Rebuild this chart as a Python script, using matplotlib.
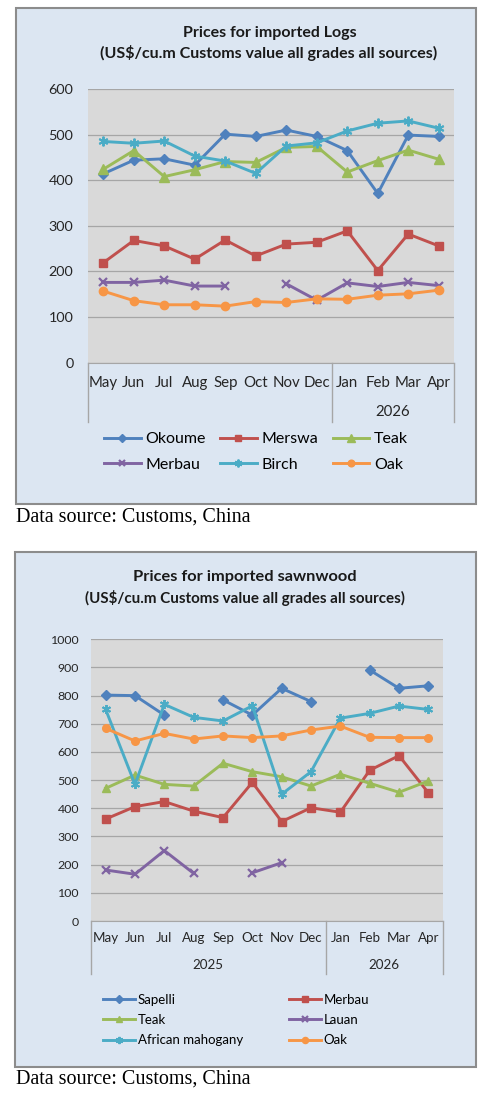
import numpy as np
import matplotlib
matplotlib.use("Agg")
from matplotlib import pyplot as plt
from matplotlib.patches import Rectangle

nan = np.nan

months = ['May', 'Jun', 'Jul', 'Aug', 'Sep', 'Oct', 'Nov', 'Dec', 'Jan', 'Feb', 'Mar', 'Apr']

# Logs (US$/cu.m)
log_okoume = [414, 444, 447, 433, 501, 496, 510, 496, 465, 371, 499, 496]
log_merswa = [219, 268, 256, 227, 269, 234, 260, 264, 289, 202, 282, 256]
log_teak = [424, 465, 408, 423, 441, 439, 472, 474, 418, 443, 466, 446]
log_merbau = [176, 176, 181, 168, 168, nan, 173, 137, 175, 167, 176, 169]
log_birch = [485, 481, 486, 453, 442, 415, 475, 482, 508, 525, 530, 514]
log_oak = [157, 136, 127, 127, 124, 134, 132, 140, 139, 148, 151, 159]

# Sawnwood (US$/cu.m)
saw_sapelli = [802, 800, 731, nan, 785, 731, 826, 779, nan, 891, 826, 835]
saw_merbau = [362, 406, 424, 390, 367, 492, 353, 402, 386, 535, 587, 455]
saw_teak = [471, 518, 485, 479, 560, 530, 512, 479, 521, 489, 457, 497]
saw_lauan = [181, 166, 250, 169, nan, 171, 207, nan, nan, nan, nan, nan]
saw_mahogany = [751, 485, 769, 723, 710, 764, 450, 530, 720, 737, 763, 751]
saw_oak = [684, 639, 666, 646, 657, 651, 657, 678, 692, 652, 651, 651]

BLUE = '#4F81BD'
RED = '#C0504D'
GREEN = '#9BBB59'
PURPLE = '#8064A2'
AQUA = '#4BACC6'
ORANGE = '#F79646'

W, H = 490, 1098
fig = plt.figure(figsize=(W / 100, H / 100), dpi=100)
fig.patch.set_facecolor('white')
FONT = 'Lato'


def box(x0, y0, x1, y1):
    return [x0 / W, 1 - y1 / H, (x1 - x0) / W, (y1 - y0) / H]


def frame(x0, y0, x1, y1):
    r = Rectangle((x0 / W, 1 - y1 / H), (x1 - x0) / W, (y1 - y0) / H,
                  transform=fig.transFigure, facecolor='#DCE6F2',
                  edgecolor='#8C8C8C', lw=1.5, zorder=0)
    fig.add_artist(r)


def ftext(x, y, s, family=FONT, **kw):
    fig.text(x / W, 1 - y / H, s, family=family, **kw)


def setup_axes(ax, ymax, tick_fs, pad, month_fs, month_off, years, line_drop, ax_h):
    ax.set_facecolor('#D9D9D9')
    ax.set_xlim(-0.5, 11.5)
    ax.set_ylim(0, ymax)
    ax.set_yticks(np.arange(0, ymax + 1, 100))
    ax.yaxis.grid(True, color='#A6A6A6', lw=0.9)
    ax.set_axisbelow(True)
    for s in ['left', 'right', 'top']:
        ax.spines[s].set_visible(False)
    ax.spines['bottom'].set_color('#A6A6A6')
    ax.set_xticks([])
    ax.tick_params(axis='y', length=0, pad=pad, labelsize=tick_fs, labelcolor='#262626')
    for lab in ax.get_yticklabels():
        lab.set_family(FONT)
    tr = ax.get_xaxis_transform()
    for i, m in enumerate(months):
        ax.text(i, -month_off / ax_h, m, transform=tr, ha='center', va='center',
                fontsize=month_fs, family=FONT, color='#262626')
    for xc, label, yoff in years:
        ax.text(xc, -yoff / ax_h, label, transform=tr, ha='center', va='center',
                fontsize=month_fs, family=FONT, color='#262626')
    for xv in [-0.5, 7.5, 11.5]:
        ax.axvline(xv, ymin=-line_drop / ax_h, ymax=0, color='#A6A6A6', lw=1.0, clip_on=False)


def draw(ax, y, color, marker, label, ms):
    mk = marker
    kw = dict(markerfacecolor=color, markeredgecolor=color)
    if marker == 'star':
        mk = (6, 2, 0)
        kw['markeredgewidth'] = 1.4
    elif marker == 'x':
        kw['markeredgewidth'] = 1.6
    return ax.plot(range(len(months)), y, color=color, lw=2.1, marker=mk,
                   markersize=ms, label=label, clip_on=False, **kw)[0]


# ---- chart 1: logs ----
frame(16, 8, 476, 504)
ftext(270, 33, 'Prices for imported Logs', ha='center', va='center', fontsize=11.5,
      weight='bold', color='#1a1a1a')
ftext(269, 53, '(US$/cu.m Customs value all grades all sources)', ha='center', va='center',
      fontsize=11.5, weight='bold', color='#1a1a1a')

ax1 = fig.add_axes(box(88, 89, 454, 362.7))
ah1 = 273.7
setup_axes(ax1, 600, 10.4, 10.5, 10.8, 20, [(9.5, '2026', 49)], 59, ah1)
h_ok = draw(ax1, log_okoume, BLUE, 'D', 'Okoume', 5.5)
h_me = draw(ax1, log_merswa, RED, 's', 'Merswa', 6)
h_te = draw(ax1, log_teak, GREEN, '^', 'Teak', 6.5)
h_mb = draw(ax1, log_merbau, PURPLE, 'x', 'Merbau', 6)
h_bi = draw(ax1, log_birch, AQUA, 'star', 'Birch', 7)
h_oa = draw(ax1, log_oak, ORANGE, 'o', 'Oak', 6)

fig.legend(handles=[h_ok, h_mb, h_me, h_bi, h_te, h_oa], ncol=3,
           loc='center', bbox_to_anchor=(256 / W, 1 - 452 / H), frameon=False,
           prop={'family': FONT, 'size': 11.5}, handlelength=2.3,
           columnspacing=0.9, handletextpad=0.3, labelspacing=0.7, markerscale=0.8)

ftext(16, 517, 'Data source: Customs, China', family='Liberation Serif', ha='left',
      va='center', fontsize=14.5, color='black')

# ---- chart 2: sawnwood ----
frame(15, 552, 476, 1067)
ftext(245, 577, 'Prices for imported sawnwood', ha='center', va='center', fontsize=11.8,
      weight='bold', color='#1a1a1a')
ftext(245, 598, '(US$/cu.m Customs value all grades all sources)', ha='center', va='center',
      fontsize=10.9, weight='bold', color='#1a1a1a')

ax2 = fig.add_axes(box(91, 639.3, 443, 921))
ah2 = 281.7
setup_axes(ax2, 1000, 8.9, 8.5, 9.6, 17, [(3.5, '2025', 44), (9.5, '2026', 44)], 53, ah2)
s_sa = draw(ax2, saw_sapelli, BLUE, 'D', 'Sapelli', 5)
s_me = draw(ax2, saw_merbau, RED, 's', 'Merbau', 5.5)
s_te = draw(ax2, saw_teak, GREEN, '^', 'Teak', 6)
s_la = draw(ax2, saw_lauan, PURPLE, 'x', 'Lauan', 5.5)
s_ma = draw(ax2, saw_mahogany, AQUA, 'star', 'African mahogany', 6.5)
s_oa = draw(ax2, saw_oak, ORANGE, 'o', 'Oak', 5.5)

fig.legend(handles=[s_sa, s_te, s_ma, s_me, s_la, s_oa], ncol=2,
           loc='center', bbox_to_anchor=(236 / W, 1 - 1020 / H), frameon=False,
           prop={'family': FONT, 'size': 9.5}, handlelength=2.4,
           columnspacing=3.5, handletextpad=0.2, labelspacing=0.63, markerscale=0.8)

ftext(16, 1079, 'Data source: Customs, China', family='Liberation Serif', ha='left',
      va='center', fontsize=14.5, color='black')

fig.savefig('out.png', dpi=100)
